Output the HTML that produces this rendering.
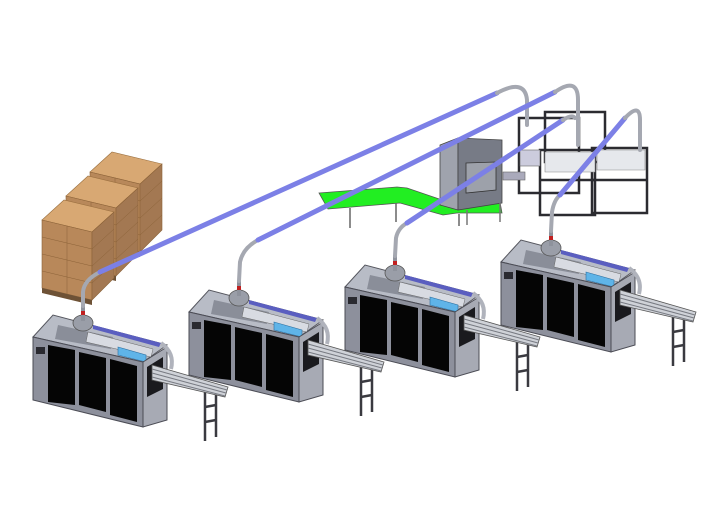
<!DOCTYPE html>
<html><head><meta charset="utf-8"><style>html,body{margin:0;padding:0;background:#fff}svg{display:block}</style></head>
<body>
<svg width="720" height="520" viewBox="0 0 720 520" xmlns="http://www.w3.org/2000/svg">
<defs>
<g id="m">
  <g stroke="#3a3a40" stroke-width="2.5">
    <line x1="172" y1="55" x2="172" y2="104"/><line x1="183" y1="55" x2="183" y2="100"/>
    <line x1="172" y1="70" x2="183" y2="68"/><line x1="172" y1="85" x2="183" y2="83"/>
  </g>
  <polygon points="0,0 20,-22 134,8 110,25" fill="#b8bcc6" stroke="#55565e" stroke-width="1"/>
  <polygon points="25,-12 80,0 78,12 22,2" fill="#8a8e99"/>
  <polygon points="55,-5 120,12 118,20 53,5" fill="#d8dbe2" stroke="#666" stroke-width="0.5"/>
  <polygon points="60,-12 128,6 126,10 60,-8" fill="#5a5ec0"/>
  <polygon points="85,10 113,18 113,25 85,18" fill="#5fb4e8" stroke="#2d6fa0" stroke-width="0.6"/>
  <ellipse cx="50" cy="-14" rx="10" ry="8" fill="#9a9ea8" stroke="#555" stroke-width="0.8"/>
  <rect x="48" y="-32" width="4" height="16" fill="#8e929c"/>
  <rect x="48" y="-26" width="4" height="4" fill="#c02020"/>
  <polygon points="0,0 110,25 110,90 0,63" fill="#8d909c" stroke="#4b4c55" stroke-width="1"/>
  <polygon points="15,8 42,13 42,68 15,65" fill="#050505"/>
  <polygon points="46,15 73,21 73,75 46,68" fill="#050505"/>
  <polygon points="77,22 104,29 104,85 77,78" fill="#050505"/>
  <rect x="3" y="10" width="9" height="7" fill="#2a2a30"/>
  <polygon points="110,25 134,10 134,83 110,90" fill="#a7aab4" stroke="#4b4c55" stroke-width="1"/>
  <polygon points="114,30 130,20 130,52 114,60" fill="#1a1a1e"/>
  <path d="M128,6 q14,10 10,26" fill="none" stroke="#b0b3bc" stroke-width="4"/>
  <polygon points="119,28 195,50 192,60 119,43" fill="#cfd2d8" stroke="#555" stroke-width="0.8"/>
  <g stroke="#777a82" stroke-width="1">
    <line x1="119" y1="32" x2="194" y2="53"/><line x1="119" y1="36" x2="193" y2="56"/><line x1="119" y1="40" x2="192" y2="59"/>
  </g>
</g>
<g id="box">
  <polygon points="0,0 22,-20 72,-8 50,12" fill="#d8a873" stroke="#9b7040" stroke-width="0.6"/>
  <polygon points="0,0 50,12 50,80 0,68" fill="#b8885a" stroke="#8b6238" stroke-width="0.6"/>
  <polygon points="50,12 72,-8 72,58 50,80" fill="#a37852" stroke="#8b6238" stroke-width="0.6"/>
  <g stroke="#8b6238" stroke-width="0.5" fill="none">
    <line x1="0" y1="17" x2="50" y2="29"/><line x1="0" y1="34" x2="50" y2="46"/><line x1="0" y1="51" x2="50" y2="63"/>
    <line x1="25" y1="6" x2="25" y2="74"/>
    <line x1="50" y1="29" x2="72" y2="9"/><line x1="50" y1="46" x2="72" y2="26"/><line x1="50" y1="63" x2="72" y2="43"/>
  </g>
  <polygon points="0,68 50,80 50,85 0,73" fill="#6e5236"/>
</g>
</defs>

<use href="#box" x="90" y="172"/>
<use href="#box" x="66" y="196"/>
<use href="#box" x="42" y="220"/>

<g stroke="#2b2b30" stroke-width="2.5" fill="none">
  <rect x="519" y="118" width="60" height="75"/>
  <rect x="545" y="112" width="60" height="50"/>
  <rect x="540" y="150" width="55" height="65"/>
  <rect x="592" y="148" width="55" height="65"/>
  <line x1="540" y1="180" x2="595" y2="180"/><line x1="592" y1="180" x2="647" y2="180"/>
</g>
<polygon points="545,152 595,152 595,172 545,172" fill="#e6e8ec" stroke="#888" stroke-width="0.6"/>
<polygon points="597,150 645,150 645,170 597,170" fill="#e6e8ec" stroke="#888" stroke-width="0.6"/>
<rect x="520" y="150" width="20" height="16" fill="#ccd" stroke="#666" stroke-width="0.6"/>
<rect x="503" y="172" width="22" height="8" fill="#aab" stroke="#666" stroke-width="0.6"/>

<polygon points="319,193 397,187 407,188 448,202 500,202 502,213 457,213 443,215 400,203 328,209" fill="#22ee22" stroke="#555" stroke-width="0.8"/>
<g stroke="#666" stroke-width="1.5"><line x1="350" y1="208" x2="350" y2="228"/><line x1="396" y1="203" x2="396" y2="222"/><line x1="459" y1="214" x2="459" y2="226"/></g>

<polygon points="440,145 458,138 458,210 440,205" fill="#9fa3ad" stroke="#444" stroke-width="0.8"/>
<polygon points="458,138 502,140 502,203 458,210" fill="#777b86" stroke="#444" stroke-width="0.8"/>
<polygon points="466,163 496,162 496,190 466,193" fill="#9da1aa" stroke="#333" stroke-width="0.8"/>
<line x1="467" y1="210" x2="467" y2="225" stroke="#777" stroke-width="1.5"/>
<line x1="500" y1="203" x2="500" y2="222" stroke="#777" stroke-width="1.5"/>

<use href="#m" x="501" y="262"/>
<use href="#m" x="345" y="287"/>
<use href="#m" x="189" y="312"/>
<use href="#m" x="33" y="337"/>

<g fill="none" stroke-linecap="round">
  <path d="M83,306 L83,292 Q84,280 100,272" stroke="#a5a8b1" stroke-width="4"/>
  <line x1="100" y1="272" x2="497" y2="93" stroke="#7c80e6" stroke-width="5"/>
  <path d="M497,93 Q525,78 527,100 L527,125" stroke="#a5a8b1" stroke-width="4"/>
  <path d="M239,281 L240,262 Q243,248 258,240" stroke="#a5a8b1" stroke-width="4"/>
  <line x1="258" y1="240" x2="555" y2="92" stroke="#7c80e6" stroke-width="5"/>
  <path d="M555,92 Q578,76 578,100 L578,145" stroke="#a5a8b1" stroke-width="4"/>
  <path d="M395,256 L396,238 Q398,228 407,223" stroke="#a5a8b1" stroke-width="4"/>
  <line x1="407" y1="223" x2="563" y2="120" stroke="#7c80e6" stroke-width="5"/>
  <path d="M563,120 Q572,114 575,118" stroke="#a5a8b1" stroke-width="4"/>
  <path d="M551,231 L552,212 Q554,200 560,195" stroke="#a5a8b1" stroke-width="4"/>
  <line x1="560" y1="195" x2="625" y2="118" stroke="#7c80e6" stroke-width="5"/>
  <path d="M625,118 Q640,102 640,120 L640,150" stroke="#a5a8b1" stroke-width="4"/>
</g>
</svg>
</body></html>
